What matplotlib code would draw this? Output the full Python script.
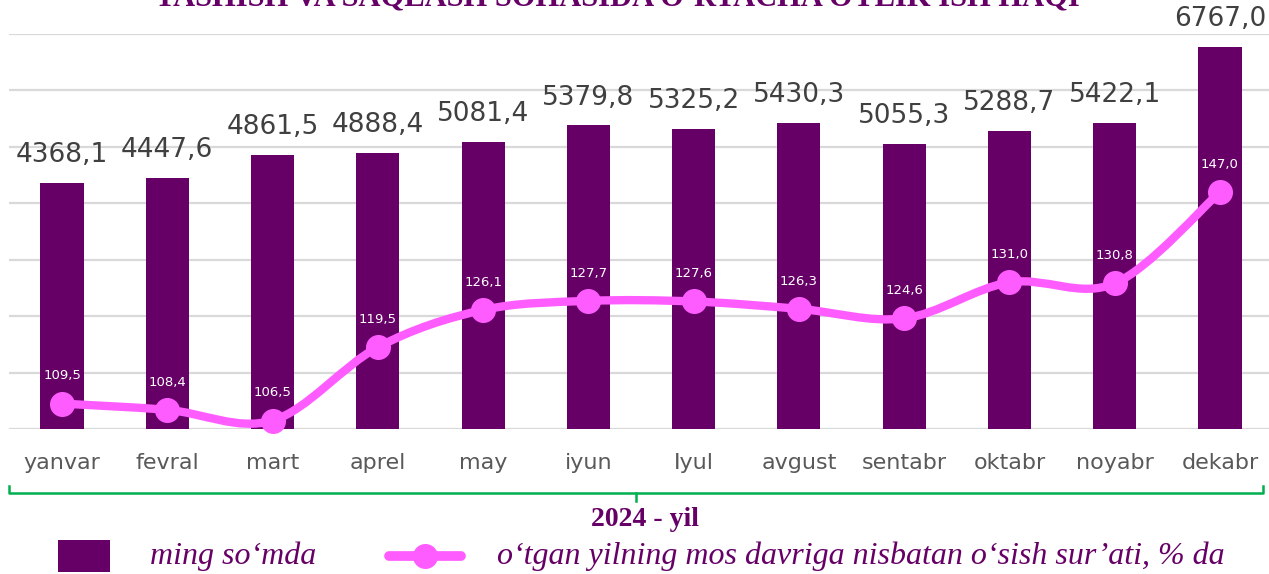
import matplotlib
matplotlib.use('Agg')
import matplotlib.pyplot as plt
from matplotlib.lines import Line2D
from matplotlib.patches import Rectangle
from matplotlib.path import Path
from matplotlib.patches import PathPatch
import numpy as np

months = ['yanvar', 'fevral', 'mart', 'aprel', 'may', 'iyun',
          'Iyul', 'avgust', 'sentabr', 'oktabr', 'noyabr', 'dekabr']
salary = [4368.1, 4447.6, 4861.5, 4888.4, 5081.4, 5379.8,
          5325.2, 5430.3, 5055.3, 5288.7, 5422.1, 6767.0]
growth = [109.5, 108.4, 106.5, 119.5, 126.1, 127.7,
          127.6, 126.3, 124.6, 131.0, 130.8, 147.0]

title = 'TASHISH VA SAQLASH SOHASIDA O‘RTACHA OYLIK ISH HAQI'
year_label = '2024 - yil'
bar_name = 'ming so‘mda'
line_name = 'o‘tgan yilning mos davriga nisbatan o‘sish sur’ati, % da'

purple = '#660066'
pink = '#FF5CFF'
W, H = 1269, 574


def fx(px):
    return px / W


def fy(py):
    return 1 - py / H


def fmt(v):
    return ('%.1f' % v).replace('.', ',')


fig = plt.figure(figsize=(W / 100, H / 100), dpi=100)
ax = fig.add_axes([fx(9.4), fy(429), 1263.2 / W, (429 - 34) / H])
ax2 = ax.twinx()
x = np.arange(len(months))

ax.bar(x, salary, width=0.41, color=purple, zorder=2)
ax.set_xlim(-0.5, len(months) - 0.5)
ax.set_ylim(0, 7000)
ax.set_yticks(np.arange(0, 7001, 1000))
ax.yaxis.grid(True, color='#D9D9D9', linewidth=1.6, zorder=0)
ax.set_axisbelow(True)
ax.tick_params(axis='y', left=False, right=False, labelleft=False, labelright=False)
ax.tick_params(axis='x', bottom=False, pad=14, labelsize=16, labelcolor='#595959')
ax.set_xticks(x)
ax.set_xticklabels(months)
for s in ax.spines.values():
    s.set_visible(False)

for xi, v in zip(x, salary):
    ax.annotate(fmt(v), (xi, v), xytext=(0, 20), textcoords='offset points',
                ha='center', va='center', fontsize=19, color='#404040')

# line on secondary axis, smoothed like the spreadsheet curve
ax2.set_ylim(105, 175)
ax2.axis('off')
pts = np.column_stack([x, growth]).astype(float)
verts = [pts[0]]
codes = [Path.MOVETO]
n = len(pts)
for i in range(n - 1):
    p0 = pts[max(i - 1, 0)]
    p1 = pts[i]
    p2 = pts[i + 1]
    p3 = pts[min(i + 2, n - 1)]
    c1 = p1 + (p2 - p0) / 6
    c2 = p2 - (p3 - p1) / 6
    verts += [c1, c2, p2]
    codes += [Path.CURVE4] * 3
curve = PathPatch(Path(verts, codes), facecolor='none', edgecolor=pink,
                  linewidth=6, capstyle='round', joinstyle='round',
                  zorder=3, clip_on=False)
ax2.add_patch(curve)
ax2.plot(x, growth, linestyle='none', marker='o', markersize=17,
         color=pink, zorder=4, clip_on=False)
for xi, v in zip(x, growth):
    ax2.annotate(fmt(v), (xi, v), xytext=(0, 20), textcoords='offset points',
                 ha='center', va='center', fontsize=9.5, color='white', zorder=5)

# title, cut at the top like the source
fig.text(fx(617), fy(6), title, ha='center', va='baseline',
         fontsize=22, fontweight='bold', family='Liberation Serif', color=purple)

# green bracket under the month labels
green = '#00B050'
fig.add_artist(Line2D([fx(9), fx(9), fx(1263), fx(1263)],
                      [fy(486), fy(493), fy(493), fy(486)],
                      color=green, linewidth=1.8, transform=fig.transFigure))
fig.add_artist(Line2D([fx(636), fx(636)], [fy(493), fy(501)],
                      color=green, linewidth=1.8, transform=fig.transFigure))
fig.text(fx(645), fy(520), year_label, ha='center', va='center',
         fontsize=20, fontweight='bold', family='Liberation Serif', color=purple)

# legend
fig.add_artist(Rectangle((fx(58), fy(572)), 52 / W, 32 / H, facecolor=purple,
                         edgecolor='none', transform=fig.transFigure))
fig.text(fx(150), fy(556), bar_name, ha='left', va='center', fontsize=23,
         style='italic', family='Liberation Serif', color=purple)
fig.add_artist(Line2D([fx(389), fx(461)], [fy(556), fy(556)], color=pink,
                      linewidth=7, solid_capstyle='round',
                      transform=fig.transFigure))
fig.add_artist(Line2D([fx(425)], [fy(556)], color=pink, marker='o',
                      markersize=17, transform=fig.transFigure))
fig.text(fx(497), fy(556), line_name, ha='left', va='center', fontsize=23,
         style='italic', family='Liberation Serif', color=purple)

plt.savefig('out.png', dpi=100)
